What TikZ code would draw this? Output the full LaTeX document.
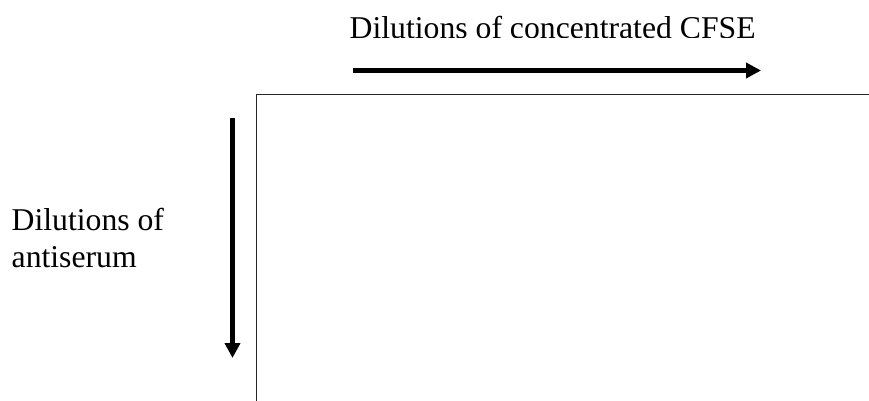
\documentclass[tikz,border=0pt]{standalone}
\usepackage{fontspec}
\setmainfont{Liberation Serif}
\usetikzlibrary{arrows.meta}
\tikzset{
  lbl/.style={inner sep=0pt, anchor=base west, font=\fontsize{31.7}{37}\selectfont},
  bigarrow/.style={line width=5pt, -{Triangle[length=15pt,width=15pt]}},
  border/.style={line width=1.6pt, draw=black!85}
}
\begin{document}
\begin{tikzpicture}[x=1pt,y=-1pt]
\useasboundingbox (0,0) rectangle (869,401);
\begin{scope}
  \clip (0,0) rectangle (869,38);
  \node[lbl] (toplabel) at (349.5,39) {Dilutions of concentrated CFSE};
\end{scope}
\node[lbl] (left1) at (11.5,230) {Dilutions of};
\node[lbl] (left2) at (11.5,267) {antiserum};
\coordinate (ha) at (353,70.5);
\coordinate (hb) at (761,70.5);
\coordinate (va) at (232.5,118);
\coordinate (vb) at (232.5,358);
\draw[bigarrow] (ha) -- (hb);
\draw[bigarrow] (va) -- (vb);
\coordinate (c1) at (869,94.5);
\coordinate (c2) at (256.5,94.5);
\coordinate (c3) at (256.5,401);
\draw[border] (c1) -- (c2) -- (c3);
\end{tikzpicture}
\end{document}
